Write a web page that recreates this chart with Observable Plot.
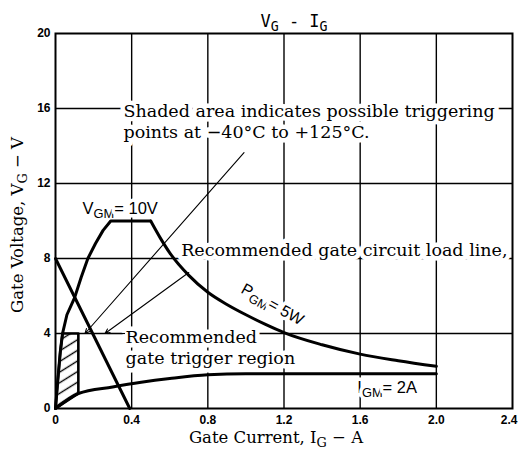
<!DOCTYPE html>
<html>
<head>
<meta charset="utf-8">
<script src="https://cdn.jsdelivr.net/npm/d3@7"></script>
<script src="https://cdn.jsdelivr.net/npm/@observablehq/plot@0.6"></script>
<style>
  html, body { margin: 0; padding: 0; background: white; }
  #chart { width: 518px; height: 460px; }
</style>
</head>
<body>
<div id="chart"></div>
<script>
// ---- tick values / labels ----
const xTicks = [0, 0.4, 0.8, 1.2, 1.6, 2.0, 2.4];
const xTickLabels = ["0", "0.4", "0.8", "1.2", "1.6", "2.0", "2.4"];
const yTicks = [0, 4, 8, 12, 16, 20];

// ---- V_GM = 10V limit (left rise + flat top) ----
const vgmI = [0, 0.012, 0.025, 0.037, 0.06, 0.1, 0.135, 0.17, 0.21, 0.25, 0.29, 0.5];
const vgmV = [0, 1.5, 3, 4, 5, 5.9, 7, 8, 8.8, 9.5, 10, 10];

// ---- P_GM = 5W limit ----
const pgmI = [0.5, 0.55, 0.6, 0.7, 0.8, 0.9, 1.0, 1.1, 1.2, 1.4, 1.6, 1.8, 2.0];
const pgmV = [10, 9.1, 8.3, 7.1, 6.2, 5.55, 5.0, 4.5, 4.05, 3.4, 2.9, 2.55, 2.25];

// ---- lower boundary up to I_GM = 2A ----
const lowI = [0, 0.12, 0.3, 0.45, 0.6, 0.8, 1.0, 2.0];
const lowV = [0, 0.8, 1.15, 1.4, 1.6, 1.8, 1.85, 1.85];

// ---- recommended gate trigger region (shaded) ----
const trigI = [0, 0.012, 0.025, 0.037, 0.12, 0.12, 0];
const trigV = [0, 1.5, 3, 4, 4, 0.8, 0];

// ---- recommended gate circuit load line ----
const loadI = [0, 0.39];
const loadV = [8, 0];

// ---- leader lines (start I, start V, end I, end V) ----
const leaderNames = ["shaded", "loadline", "trigger"];
const leaderI1 = [0.99, 0.70, 0.365];
const leaderV1 = [13.65, 7.25, 4.0];
const leaderI2 = [0.155, 0.26, 0.27];
const leaderV2 = [4.0, 4.0, 4.0];
const leaderHead = [true, true, false];

// ---- annotation texts (serif) ----
const noteTexts = [
  "Shaded area indicates possible triggering\npoints at \u221240\u00b0C to +125\u00b0C.",
  "Recommended gate circuit load line,",
  "Recommended\ngate trigger region"
];
const noteI = [0.357, 0.66, 0.368];
const noteV = [15.33, 8.48, 3.31];

// ---- curve labels (sans) ----
const curveLabels = ["V_{GM}= 10V", "I_{GM}= 2A"];
const curveLabelI = [0.142, 1.585];
const curveLabelV = [10.67, 1.1];

const pgmLabel = "P_{GM}= 5W";
const pgmLabelI = 1.14;
const pgmLabelV = 5.55;

const title = "V_{G} - I_{G}";
const xLabel = "Gate Current, I_{G} \u2212 A";
const yLabel = "Gate Voltage, V_{G} \u2212 V";

// ---- build tables ----
const zip = (xs, ys) => xs.map((x, i) => ({x, y: ys[i]}));
const vgm = zip(vgmI, vgmV);
const pgm = zip(pgmI, pgmV);
const low = zip(lowI, lowV);
const trig = zip(trigI, trigV);
const load = zip(loadI, loadV);
const leaders = leaderNames.map((n, i) => ({n, x1: leaderI1[i], y1: leaderV1[i], x2: leaderI2[i], y2: leaderV2[i], head: leaderHead[i]}));
const notes = noteTexts.map((t, i) => ({t, x: noteI[i], y: noteV[i]}));
const clabels = curveLabels.map((t, i) => ({t, x: curveLabelI[i], y: curveLabelV[i]}));

const serif = "'DejaVu Serif', serif";
const sans = "'Liberation Sans', Arial, sans-serif";
const fmtX = d => xTickLabels[xTicks.indexOf(d)];

const plot = Plot.plot({
  width: 518,
  height: 460,
  marginLeft: 55,
  marginRight: 6,
  marginTop: 33,
  marginBottom: 52,
  style: {background: "white", color: "black", fontFamily: sans},
  x: {domain: [0, 2.4], label: null},
  y: {domain: [0, 20], label: null},
  marks: [
    Plot.gridX(xTicks.slice(1, -1), {stroke: "black", strokeOpacity: 1, strokeWidth: 1.4}),
    Plot.gridY(yTicks.slice(1, -1), {stroke: "black", strokeOpacity: 1, strokeWidth: 1.4}),
    // annotation texts with white halo that interrupts grid lines
    Plot.text(notes, {x: "x", y: "y", text: "t", textAnchor: "start", lineAnchor: "middle",
      fontFamily: serif, fontSize: 17.5, lineHeight: 1.2, fill: "black",
      stroke: "white", strokeWidth: 9, paintOrder: "stroke"}),
    Plot.text(clabels, {x: "x", y: "y", text: "t", textAnchor: "start", lineAnchor: "middle",
      fontFamily: sans, fontSize: 16.5, fill: "black", stroke: "white", strokeWidth: 7, paintOrder: "stroke"}),
    Plot.text([pgmLabel], {x: () => pgmLabelI, y: () => pgmLabelV, text: d => d, rotate: 29,
      fontFamily: sans, fontSize: 16, fill: "black", stroke: "white", strokeWidth: 7, paintOrder: "stroke"}),
    // shaded trigger region
    Plot.line(trig, {x: "x", y: "y", fill: "url(#hatch)", stroke: "black", strokeWidth: 2.6, curve: "linear"}),
    // curves
    Plot.line(vgm, {x: "x", y: "y", stroke: "black", strokeWidth: 3}),
    Plot.line(pgm, {x: "x", y: "y", stroke: "black", strokeWidth: 3, curve: "monotone-x"}),
    Plot.line(low, {x: "x", y: "y", stroke: "black", strokeWidth: 3, curve: "monotone-x"}),
    Plot.line(load, {x: "x", y: "y", stroke: "black", strokeWidth: 3}),
    // leaders
    Plot.arrow(leaders.filter(d => d.head), {x1: "x1", y1: "y1", x2: "x2", y2: "y2", stroke: "black", strokeWidth: 1.1, headLength: 7, headAngle: 50}),
    Plot.link(leaders.filter(d => !d.head), {x1: "x1", y1: "y1", x2: "x2", y2: "y2", stroke: "black", strokeWidth: 1.1}),
    Plot.frame({stroke: "black", strokeWidth: 2}),
    Plot.axisX({ticks: xTicks.slice(0, -1), tickFormat: fmtX, tickSize: 0, tickPadding: 7,
      fontWeight: "bold", fontSize: 12, label: null}),
    Plot.axisX({ticks: xTicks.slice(-1), tickFormat: fmtX, tickSize: 0, tickPadding: 7, textAnchor: "end", dx: 5,
      fontWeight: "bold", fontSize: 12, label: null}),
    Plot.axisY({ticks: yTicks, tickSize: 0, tickPadding: 5, fontWeight: "bold", fontSize: 12, label: null}),
    // title and axis labels
    Plot.text([title], {frameAnchor: "top", dy: -19, dx: 10, text: d => d,
      fontFamily: "'DejaVu Sans Mono', monospace", fontSize: 17, fill: "black"}),
    Plot.text([xLabel], {frameAnchor: "bottom", dy: 34, dx: -8, text: d => d, fontFamily: serif, fontSize: 16.5, fill: "black"}),
    Plot.text([yLabel], {frameAnchor: "left", dx: -38, dy: 4, rotate: -90, textAnchor: "middle", text: d => d,
      fontFamily: serif, fontSize: 16.5, fill: "black"})
  ]
});

// hatch pattern definition for the shaded region
const ns = "http://www.w3.org/2000/svg";
const defs = document.createElementNS(ns, "defs");
defs.innerHTML = '<pattern id="hatch" patternUnits="userSpaceOnUse" width="9" height="9" patternTransform="rotate(-32)">' +
  '<rect width="9" height="9" fill="white"/><line x1="0" y1="4.5" x2="9" y2="4.5" stroke="black" stroke-width="1.4"/></pattern>';
plot.insertBefore(defs, plot.firstChild);

// subscripts: turn "_{..}" into lowered, smaller tspans
plot.querySelectorAll("text").forEach(t => {
  const targets = t.querySelector("tspan") ? Array.from(t.querySelectorAll("tspan")) : [t];
  targets.forEach(el => {
    const s = el.textContent;
    if (!s.includes("_{")) return;
    const parts = s.split(/(_\{[^}]*\})/).filter(p => p.length);
    el.textContent = "";
    let shifted = false;
    parts.forEach(p => {
      const sp = document.createElementNS(ns, "tspan");
      if (p.startsWith("_{")) {
        sp.textContent = p.slice(2, -1);
        sp.setAttribute("font-size", "78%");
        sp.setAttribute("dy", "4");
        shifted = true;
      } else {
        sp.textContent = p;
        if (shifted) { sp.setAttribute("dy", "-4"); shifted = false; }
      }
      el.appendChild(sp);
    });
  });
});

document.getElementById("chart").appendChild(plot);
</script>
</body>
</html>
